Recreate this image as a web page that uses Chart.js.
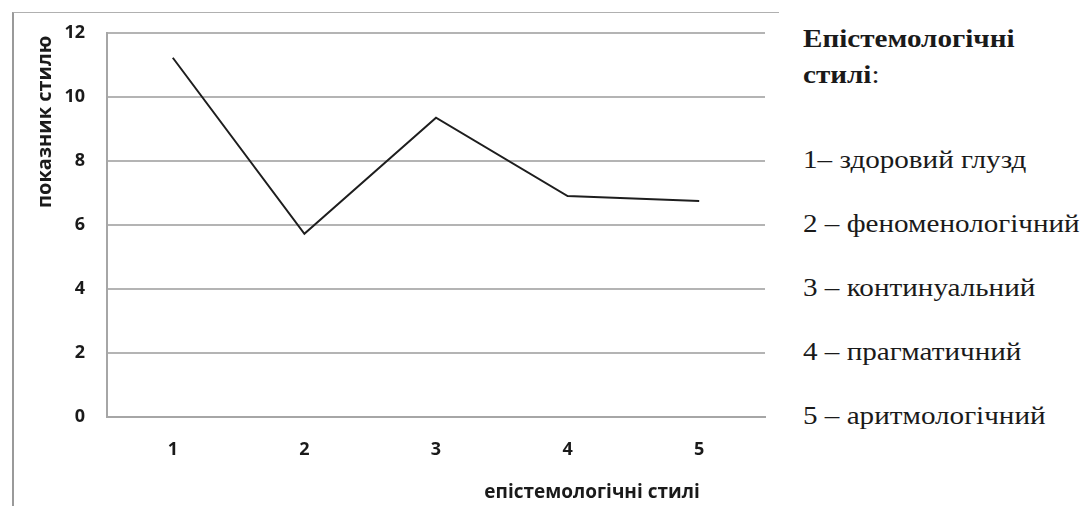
<!DOCTYPE html>
<html>
<head>
<meta charset="utf-8">
<script src="https://cdn.jsdelivr.net/npm/chart.js@4"></script>
<style>
  html, body { margin: 0; padding: 0; background: #fff; }
  #wrap { position: relative; width: 1085px; height: 506px; overflow: hidden; }
  #frame { position: absolute; left: 12px; top: 12px; width: 765px; height: 500px;
           border-left: 2px solid #9a9a9a; border-top: 1px solid #b0b0b0; }
  #box { position: absolute; left: 0; top: 0; width: 780px; height: 506px; }
  .note { position: absolute; left: 803px; font-family: "Liberation Serif", "Times New Roman", serif;
          font-size: 26px; color: #1a1a1a; line-height: 30px; white-space: nowrap;
          transform: scaleX(1.12); transform-origin: left center; }
  .note b { font-weight: bold; }
</style>
</head>
<body>
<div id="wrap">
  <div id="frame"></div>
  <div id="box"><canvas id="styles-chart"></canvas></div>
  <div class="note" style="top:24px"><b>Епістемологічні</b></div>
  <div class="note" style="top:60px"><b>стилі</b>:</div>
  <div class="note" style="top:145px">1– здоровий глузд</div>
  <div class="note" style="top:209px">2 – феноменологічний</div>
  <div class="note" style="top:273px">3 – континуальний</div>
  <div class="note" style="top:337px">4 – прагматичний</div>
  <div class="note" style="top:401px">5 – аритмологічний</div>
</div>
<script>
// категорії та значення показника стилю
const styleNums = ['1', '2', '3', '4', '5'];
const styleScores = [11.22, 5.72, 9.35, 6.9, 6.75];
const yTicks = [0, 2, 4, 6, 8, 10, 12];

const yTitle = 'показник стилю';
const xTitle = 'епістемологічні стилі';

// підписи осей малюємо вручну, щоб поставити їх як в оригіналі
const axisTitles = {
    id: 'axisTitles',
    afterDraw(chart) {
        const ctx = chart.ctx;
        const area = chart.chartArea;
        ctx.save();
        ctx.fillStyle = '#1a1a1a';
        ctx.textAlign = 'center';
        ctx.textBaseline = 'middle';
        ctx.font = 'bold 19px "Open Sans", sans-serif';
        ctx.fillText(xTitle, area.left + 485, area.bottom + 76);
        ctx.font = 'bold 20px "Open Sans", sans-serif';
        ctx.translate(45, area.top + 89);
        ctx.rotate(-Math.PI / 2);
        ctx.fillText(yTitle, 0, 0);
        ctx.restore();
    }
};

document.addEventListener('DOMContentLoaded', () => {
    const ctx = document.getElementById('styles-chart').getContext('2d');
    new Chart(ctx, {
        type: 'line',
        data: {
            labels: styleNums,
            datasets: [{
                data: styleScores,
                borderColor: '#1e1e1e',
                borderWidth: 2,
                pointRadius: 0,
                tension: 0,
                fill: false
            }]
        },
        options: {
            responsive: true,
            maintainAspectRatio: false,
            animation: false,
            layout: { padding: { top: 31, right: 15, left: 0, bottom: 0 } },
            plugins: {
                legend: { display: false },
                tooltip: { enabled: false }
            },
            scales: {
                x: {
                    offset: true,
                    afterFit: (scale) => { scale.height = 89; },
                    grid: { display: false, drawTicks: false },
                    border: { color: '#a6a6a6', width: 2 },
                    ticks: {
                        color: '#1a1a1a',
                        padding: 22,
                        font: { family: '"Open Sans", sans-serif', size: 18, weight: 'bold' }
                    }
                },
                y: {
                    min: 0,
                    max: 12,
                    afterFit: (scale) => { scale.width = 107; },
                    afterBuildTicks: (scale) => { scale.ticks = yTicks.map(v => ({ value: v })); },
                    grid: { color: '#b4b4b4', lineWidth: 2, drawTicks: false },
                    border: { color: '#a6a6a6', width: 2 },
                    ticks: {
                        color: '#1a1a1a',
                        padding: 22,
                        font: { family: '"Open Sans", sans-serif', size: 18, weight: 'bold' }
                    }
                }
            }
        },
        plugins: [axisTitles]
    });
});
</script>
</body>
</html>
